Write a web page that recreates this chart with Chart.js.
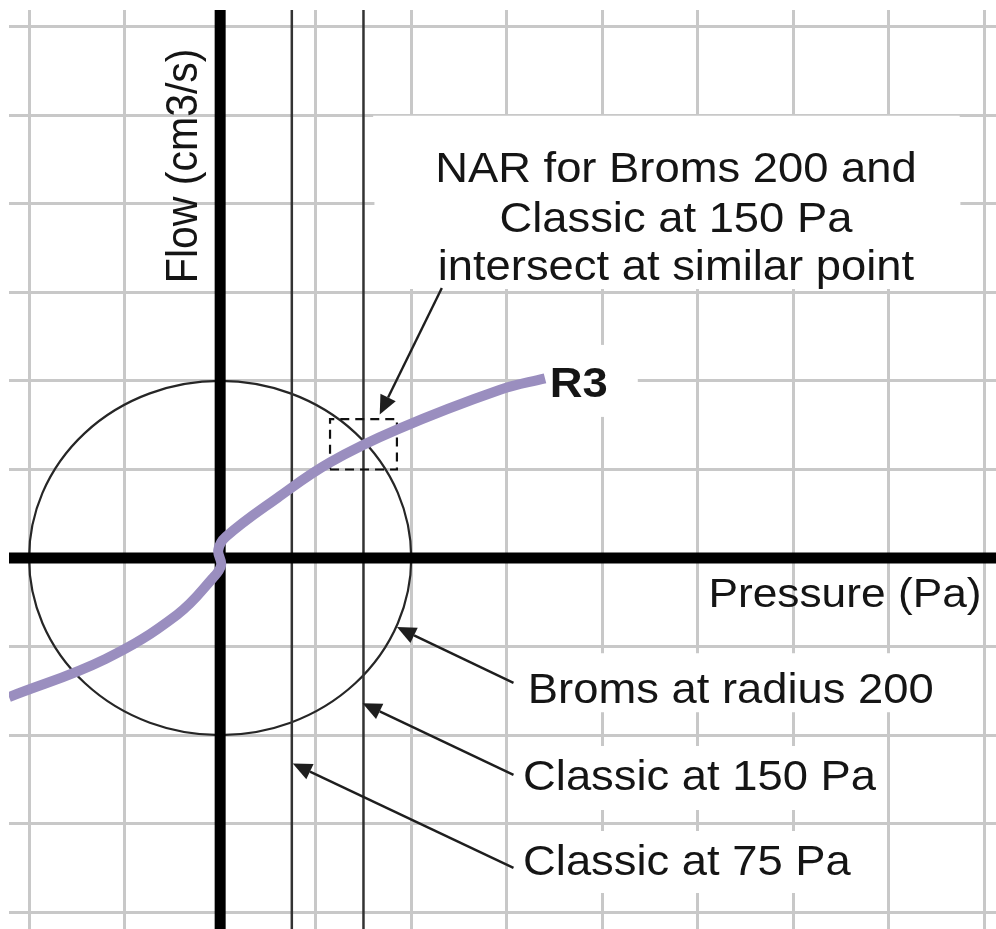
<!DOCTYPE html>
<html>

<head>
    <meta charset="utf-8">
    <title>NAR - Broms vs Classic</title>
    <script src="https://cdn.jsdelivr.net/npm/chart.js@4.4.0/dist/chart.umd.min.js"></script>
    <style>
        html, body { margin: 0; padding: 0; background: #fff; }
        canvas { display: block; }
    </style>
</head>

<body>
    <canvas id="canvas" width="996" height="929"></canvas>

    <script>
        // axis window (one grid cell = 100)
        const xMin = -221, xMax = 812;
        const yMin = -419, yMax = 619;
        const gridStep = 100;

        // R3 curve (pressure Pa, flow)
        const r3Pressure = [-221, -120, -45, -8, 1, -2, 6, 60, 115, 185, 293, 340];
        const r3Flow = [-157, -114, -64, -23, -8, 9, 24, 68, 108, 145, 190, 203];

        // classic NAR lines and Broms radius
        const classicPa = [75, 150];
        const bromsRadius = 200;

        // dashed box round the intersection
        const boxPa = [115, 185];
        const boxFlow = [100, 157];

        const purple = '#9a8ebf';
        const ink = '#151515';
        const stretch = 1.08;   // picture is a little wider than tall
        const fontName = '"Liberation Sans", Arial, Helvetica, sans-serif';

        // annotations: anchors in data units, pads in px [left, top, right, bottom]
        const notes = [
            { text: 'NAR for Broms 200 and', x: 477, y: 425, align: 'center', pad: [62, 36, 43, 12] },
            { text: 'Classic at 150 Pa', x: 477, y: 368, align: 'center', pad: [125, 12, 108, 12] },
            { text: 'intersect at similar point', x: 477, y: 314, align: 'center', pad: [62, 12, 45, 9] },
            { text: 'R3', x: 345, y: 182, align: 'left', bold: true, pad: [5, 22, 30, 20] },
            { text: 'Pressure (Pa)', x: 511, y: -55, align: 'left', size: 41 },
            { text: 'Broms at radius 200', x: 322, y: -164, align: 'left', pad: [10, 20, 7, 9] },
            { text: 'Classic at 150 Pa', x: 317, y: -262, align: 'left', pad: [5, 14, 8, 20] },
            { text: 'Classic at 75 Pa', x: 317, y: -358, align: 'left', pad: [5, 14, 8, 18] }
        ];

        // arrows: [tailX, tailY, tipX, tipY] in data units
        const arrows = [
            [232, 305, 167, 162],
            [307, -141, 185, -78],
            [307, -245, 149, -164],
            [307, -350, 76, -232]
        ];

        function setFont(ctx, n) {
            ctx.font = (n.bold ? 'bold ' : '') + (n.size || 42) + 'px ' + fontName;
        }

        function noteBox(ctx, n, xs, ys) {
            setFont(ctx, n);
            const w = ctx.measureText(n.text).width * stretch;
            const px = xs.getPixelForValue(n.x), py = ys.getPixelForValue(n.y);
            const left = n.align === 'center' ? px - w / 2 : px;
            const cap = 30;
            return [left - n.pad[0], py - cap - n.pad[1], w + n.pad[0] + n.pad[2], cap + n.pad[1] + n.pad[3]];
        }

        const sketchNotes = {
            id: 'sketchNotes',
            beforeDatasetsDraw(chart) {
                const ctx = chart.ctx, xs = chart.scales.x, ys = chart.scales.y;
                ctx.save();
                // knock the grid out behind the labels
                ctx.fillStyle = '#fff';
                notes.forEach(n => {
                    if (!n.pad) return;
                    const b = noteBox(ctx, n, xs, ys);
                    ctx.fillRect(b[0], b[1], b[2], b[3]);
                });
                // Broms circle
                const cx = xs.getPixelForValue(0), cy = ys.getPixelForValue(0);
                const rx = Math.abs(xs.getPixelForValue(bromsRadius) - cx);
                const ry = Math.abs(ys.getPixelForValue(bromsRadius) - cy);
                ctx.beginPath();
                ctx.ellipse(cx, cy, rx, ry, 0, 0, Math.PI * 2);
                ctx.strokeStyle = '#262626';
                ctx.lineWidth = 2.2;
                ctx.stroke();
                ctx.restore();
            },
            afterDatasetsDraw(chart) {
                const ctx = chart.ctx, xs = chart.scales.x, ys = chart.scales.y;
                ctx.save();
                // arrows
                ctx.strokeStyle = '#1e1e1e';
                ctx.fillStyle = '#1e1e1e';
                ctx.lineWidth = 2.4;
                arrows.forEach(a => {
                    const x0 = xs.getPixelForValue(a[0]), y0 = ys.getPixelForValue(a[1]);
                    const x1 = xs.getPixelForValue(a[2]), y1 = ys.getPixelForValue(a[3]);
                    const ang = Math.atan2(y1 - y0, x1 - x0);
                    const len = 19, half = 8.5;
                    const bx = x1 - len * Math.cos(ang), by = y1 - len * Math.sin(ang);
                    ctx.beginPath();
                    ctx.moveTo(x0, y0);
                    ctx.lineTo(bx, by);
                    ctx.stroke();
                    ctx.beginPath();
                    ctx.moveTo(x1, y1);
                    ctx.lineTo(bx + half * Math.sin(ang), by - half * Math.cos(ang));
                    ctx.lineTo(bx - half * Math.sin(ang), by + half * Math.cos(ang));
                    ctx.closePath();
                    ctx.fill();
                });
                // labels
                ctx.fillStyle = ink;
                ctx.textBaseline = 'alphabetic';
                notes.forEach(n => {
                    setFont(ctx, n);
                    ctx.save();
                    ctx.translate(xs.getPixelForValue(n.x), ys.getPixelForValue(n.y));
                    ctx.scale(stretch, 1);
                    ctx.textAlign = n.align;
                    ctx.fillText(n.text, 0, 0);
                    ctx.restore();
                });
                // y axis title, running up the page
                ctx.save();
                ctx.font = '41px ' + fontName;
                ctx.translate(xs.getPixelForValue(-24), ys.getPixelForValue(443));
                ctx.scale(stretch, 1);
                ctx.rotate(-Math.PI / 2);
                ctx.textAlign = 'center';
                ctx.fillText('Flow (cm3/s)', 0, 0);
                ctx.restore();
                ctx.restore();
            }
        };

        const pts = (xs, ys) => xs.map((x, i) => ({ x: x, y: ys[i] }));

        const datasets = [];
        classicPa.forEach(p => {
            datasets.push({
                label: 'Classic at ' + p + ' Pa',
                data: [{ x: p, y: yMin }, { x: p, y: yMax }],
                showLine: true, borderColor: '#333', borderWidth: 2.5, pointRadius: 0, order: 4
            });
        });
        datasets.push({
            label: 'pressure axis',
            data: [{ x: xMin, y: 0 }, { x: xMax, y: 0 }],
            showLine: true, borderColor: '#000', borderWidth: 11, pointRadius: 0, order: 3
        });
        datasets.push({
            label: 'flow axis',
            data: [{ x: 0, y: yMin }, { x: 0, y: yMax }],
            showLine: true, borderColor: '#000', borderWidth: 11, pointRadius: 0, order: 3
        });
        datasets.push({
            label: 'intersection',
            data: pts([boxPa[0], boxPa[1], boxPa[1], boxPa[0], boxPa[0]], [boxFlow[0], boxFlow[0], boxFlow[1], boxFlow[1], boxFlow[0]]),
            showLine: true, borderColor: '#111', borderWidth: 2.2, borderDash: [9, 6], pointRadius: 0, order: 1
        });
        datasets.push({
            label: 'R3',
            data: pts(r3Pressure, r3Flow),
            showLine: true, borderColor: purple, borderWidth: 10, borderCapStyle: 'butt',
            tension: 0.4, pointRadius: 0, order: 0, clip: 0
        });

        const chart = new Chart(document.getElementById('canvas'), {
            type: 'scatter',
            data: { datasets: datasets },
            plugins: [sketchNotes],
            options: {
                responsive: false,
                animation: false,
                layout: { padding: { left: 9, top: 10, right: 0, bottom: 0 } },
                plugins: { legend: { display: false }, tooltip: { enabled: false } },
                scales: {
                    x: {
                        type: 'linear', min: xMin, max: xMax,
                        ticks: { display: false, stepSize: gridStep, includeBounds: false },
                        grid: { color: '#c8c8c8', lineWidth: 3, drawTicks: false },
                        border: { display: false }
                    },
                    y: {
                        type: 'linear', min: yMin, max: yMax,
                        ticks: { display: false, stepSize: gridStep, includeBounds: false },
                        grid: { color: '#c8c8c8', lineWidth: 3, drawTicks: false },
                        border: { display: false }
                    }
                }
            }
        });
    </script>
</body>

</html>
